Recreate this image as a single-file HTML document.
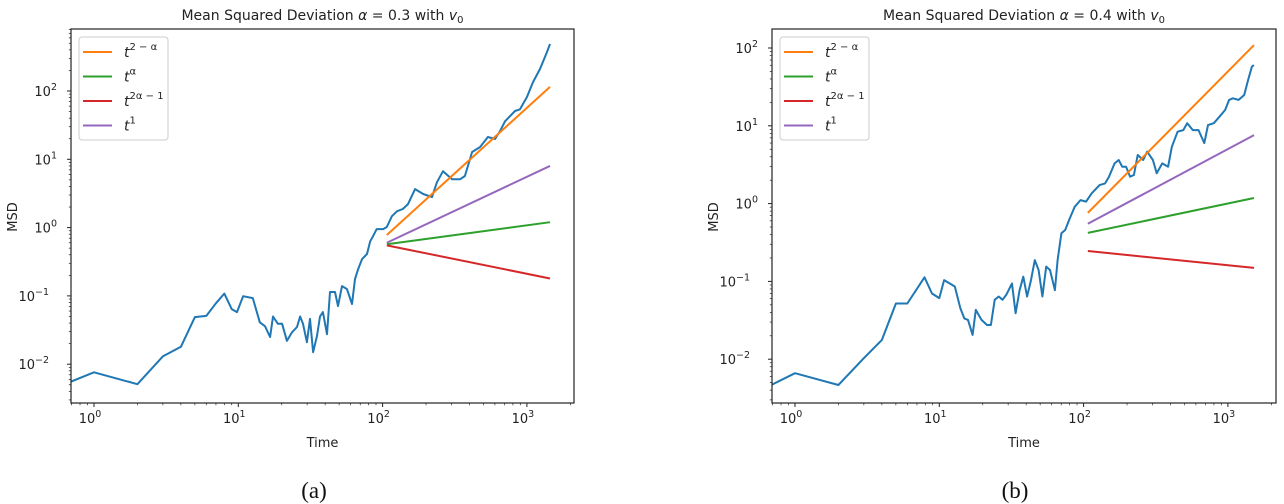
<!DOCTYPE html>
<html><head><meta charset="utf-8">
<style>
html,body{margin:0;padding:0;background:#fff;}
svg{display:block;font-family:"DejaVu Sans","Liberation Sans",sans-serif;}
</style></head>
<body>
<svg id="fig" width="1284" height="504" viewBox="0 0 1284 504" xmlns="http://www.w3.org/2000/svg"></svg>
<script>
// ---- Panel (a) data: alpha = 0.3 ----
const aTimes = [0.5,1,2,3,4,5,6,7,8,9,9.8,10.8,12.6,14.1,15.3,16.6,17.4,18.8,20.1,21.7,23.5,25.5,26.8,28.1,29.9,31.4,33,35.1,36.8,38.6,41.2,43.2,46.8,49.1,52.3,56.6,61.4,64.4,67.6,72,78,82,86,91,101,107,116,126,138,150,168,191,220,238,262,303,344,372,417,473,537,601,652,705,827,896,1002,1103,1233,1378,1446];
const aMSD = [0.0042,0.0076,0.0051,0.013,0.018,0.049,0.051,0.078,0.108,0.064,0.058,0.099,0.093,0.041,0.036,0.025,0.05,0.039,0.039,0.022,0.029,0.035,0.05,0.039,0.021,0.046,0.015,0.026,0.05,0.058,0.0275,0.114,0.114,0.071,0.139,0.126,0.076,0.176,0.246,0.345,0.41,0.63,0.75,0.95,0.95,1.02,1.47,1.74,1.87,2.21,3.66,3.1,2.8,4.6,6.7,5.1,5.1,5.7,12.8,15.1,21.2,19.8,26,36,51,54,82,135,210,373,488];
const aLineT = [107,1446];
const aOrange = [0.78,115];
const aGreen = [0.57,1.2];
const aRed = [0.55,0.18];
const aPurple = [0.6,8.0];

// ---- Panel (b) data: alpha = 0.4 ----
const bTimes = [0.5,1,2,3,4,5,6,7.9,8.9,10,10.8,12.8,14.0,14.9,15.8,17.0,17.9,19.6,21.4,22.8,24.2,25.8,27.4,29.1,31.9,33.8,36.0,38.2,40.6,43.2,45.9,48.8,51.8,55.1,58.5,63.3,66.0,70.2,74.6,79.3,86.8,95.1,104,114,129,141,150,164,175,185,197,210,223,237,259,276,302,321,351,385,409,448,491,522,571,626,686,728,798,875,958,1019,1082,1186,1298,1380,1466,1511];
const bMSD = [0.0035,0.0066,0.00466,0.0103,0.0177,0.052,0.052,0.113,0.070,0.061,0.104,0.086,0.045,0.0335,0.032,0.0205,0.043,0.032,0.0275,0.0275,0.058,0.064,0.058,0.067,0.094,0.039,0.077,0.115,0.064,0.104,0.188,0.140,0.064,0.155,0.140,0.077,0.188,0.415,0.458,0.615,0.91,1.11,1.06,1.36,1.73,1.82,2.22,3.29,3.63,2.98,2.98,2.22,2.33,4.22,3.63,4.65,3.63,2.45,3.29,2.98,5.4,8.4,8.8,10.8,8.8,8.8,6.0,10.2,10.8,13.1,16.0,21.5,22.6,21.5,24.9,38.8,57.5,60.4];
const bLineT = [107,1517];
const bOrange = [0.76,109];
const bGreen = [0.42,1.18];
const bRed = [0.246,0.149];
const bPurple = [0.55,7.6];

const xTickLabels = ['0','1','2','3'];
const aYTicks = [-2,-1,0,1,2];
const bYTicks = [-2,-1,0,1,2];

const NS = 'http://www.w3.org/2000/svg';
const fig = document.getElementById('fig');
function mk(tag, attrs, parent){
  const e = document.createElementNS(NS, tag);
  for (const k in attrs) e.setAttribute(k, attrs[k]);
  (parent||fig).appendChild(e);
  return e;
}
const colors = {blue:'#1f77b4',orange:'#ff7f0e',green:'#2ca02c',red:'#d62728',purple:'#9467bd'};

function panel(o){
  const g = mk('g',{});
  
  
  const L=o.left, R=o.right, T=29, B=403;
  const xs = t => o.x0 + Math.log10(t)*144.3;
  const ys = v => o.y2 - (Math.log10(v)-2)*o.dec;
  const clip = mk('clipPath',{id:'clip-'+o.id}, g);
  mk('rect',{x:L,y:T,width:R-L,height:B-T}, clip);
  const d = o.t.map((t,i)=>(i?'L':'M')+xs(t).toFixed(1)+','+ys(o.v[i]).toFixed(1)).join('');
  const blue = mk('path',{d:d,fill:'none',stroke:colors.blue,'stroke-width':2,'stroke-linejoin':'round','clip-path':'url(#clip-'+o.id+')'}, g);
  
  
  const lines = [['orange',o.orange,'orange-power-line'],['green',o.green,'green-power-line'],['red',o.red,'red-power-line'],['purple',o.purple,'purple-power-line']];
  for (const [c,vals,nm] of lines){
    const ln = mk('line',{x1:xs(o.lt[0]),y1:ys(vals[0]),x2:xs(o.lt[1]),y2:ys(vals[1]),stroke:colors[c],'stroke-width':2}, g);
    
    
  }
  const fr = mk('rect',{x:L,y:T,width:R-L,height:B-T,fill:'none',stroke:'#222','stroke-width':1.2}, g);
  
  
  for (let e=-1;e<=4;e++){
    for (let m=1;m<10;m++){
      const x = xs(m*Math.pow(10,e));
      if (x<L-0.5||x>R+0.5) continue;
      mk('line',{x1:x,y1:B,x2:x,y2:B+(m===1?4:2.2),stroke:'#222','stroke-width':m===1?1:0.7}, g);
    }
  }
  xTickLabels.forEach(s=>{
    const x = xs(Math.pow(10,+s));
    const tx = mk('text',{x:x-4,y:B+20,'font-size':13,'text-anchor':'middle',fill:'#222'}, g);
    
    
    tx.textContent='10';
    const sp = mk('tspan',{dy:-6,'font-size':9.5}, tx); sp.textContent=s;
  });
  for (let e=-4;e<=3;e++){
    for (let m=1;m<10;m++){
      const y = ys(m*Math.pow(10,e));
      if (y<T-0.5||y>B+0.5) continue;
      mk('line',{x1:L,y1:y,x2:L-(m===1?4:2.2),y2:y,stroke:'#222','stroke-width':m===1?1:0.7}, g);
    }
  }
  o.yt.forEach(e=>{
    const y = ys(Math.pow(10,e));
    const tx = mk('text',{x:L-(e<0?22:14),y:y+5,'font-size':13,'text-anchor':'end',fill:'#222'}, g);
    
    
    tx.textContent='10';
    const sp = mk('tspan',{dy:-6,'font-size':9.5}, tx); sp.textContent=(e<0?'\u2212':'')+Math.abs(e);
  });
  const xt = mk('text',{x:(L+R)/2,y:447,'font-size':13,'text-anchor':'middle',fill:'#222'}, g);
  
  
  xt.textContent='Time';
  const yl = mk('text',{x:0,y:0,'font-size':13,'text-anchor':'middle',fill:'#222',transform:'translate('+(L-54)+',217) rotate(-90)'}, g);
  
  
  yl.textContent='MSD';
  const ti = mk('text',{x:(L+R)/2,y:20,'font-size':14,'text-anchor':'middle',fill:'#222'}, g);
  
  
  ti.textContent='Mean Squared Deviation ';
  const a1 = mk('tspan',{'font-style':'italic'}, ti); a1.textContent='\u03b1';
  const a2 = mk('tspan',{}, ti); a2.textContent=' = '+o.alpha+' with ';
  const a3 = mk('tspan',{'font-style':'italic'}, ti); a3.textContent='v';
  const a4 = mk('tspan',{'font-size':10,dy:3}, ti); a4.textContent='0';
  const lg = mk('g',{}, g);
  
  
  mk('rect',{x:L+8,y:37,width:89,height:103,rx:3,fill:'#fff',stroke:'#ccc','stroke-width':1}, lg);
  const ent = [['orange','2 \u2212 \u03b1'],['green','\u03b1'],['red','2\u03b1 \u2212 1'],['purple','1']];
  ent.forEach((en,i)=>{
    const y = 52 + i*24.5;
    const le = mk('g',{}, lg);
    
    
    mk('line',{x1:L+12,y1:y,x2:L+41,y2:y,stroke:colors[en[0]],'stroke-width':2}, le);
    const tx = mk('text',{x:L+53,y:y+5,'font-size':14,fill:'#222'}, le);
    const t1 = mk('tspan',{'font-style':'italic'}, tx); t1.textContent='t';
    const t2 = mk('tspan',{'font-size':10,dy:-7}, tx); t2.textContent=en[1];
  });
  const cap = mk('text',{x:o.capx,y:498,'font-size':23,'text-anchor':'middle',fill:'#111','font-family':'"Liberation Serif","DejaVu Serif",serif'}, g);
  
  
  cap.textContent=o.cap;
}
panel({id:'panel-a',left:71,right:574,x0:94,y2:91,dec:68.3,t:aTimes,v:aMSD,lt:aLineT,orange:aOrange,green:aGreen,red:aRed,purple:aPurple,yt:aYTicks,alpha:'0.3',capx:314,cap:'(a)'});
panel({id:'panel-b',left:772,right:1276,x0:795,y2:48,dec:77.8,t:bTimes,v:bMSD,lt:bLineT,orange:bOrange,green:bGreen,red:bRed,purple:bPurple,yt:bYTicks,alpha:'0.4',capx:1015,cap:'(b)'});
</script>
</body></html>
